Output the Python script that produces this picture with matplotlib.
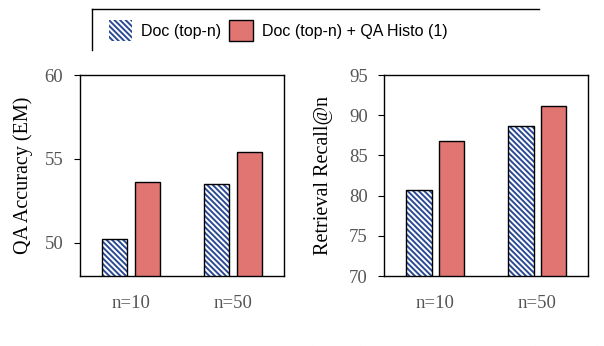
import numpy as np
import matplotlib.pyplot as plt
from matplotlib.patches import Patch
from matplotlib.lines import Line2D

# values
groups = ['n=10', 'n=50']
qa_doc = [50.2, 53.5]
qa_histo = [53.6, 55.4]
ret_doc = [80.7, 88.6]
ret_histo = [86.8, 91.1]

label_doc = 'Doc (top-n)'
label_histo = 'Doc (top-n) + QA Histo (1)'

blue = '#2b4a94'
red = '#e07572'
grey = '#555555'
hatch = '\\' * 6

plt.rcParams['hatch.linewidth'] = 1.4

fig = plt.figure(figsize=(6.04, 3.46), dpi=100)
ax1 = fig.add_axes([0.1325, 0.2023, 0.3377, 0.5809])
ax2 = fig.add_axes([0.6363, 0.2023, 0.3377, 0.5809])

x = np.arange(len(groups))
w = 0.25
off = 0.16

def draw(ax, doc, histo, ylim, yticks, ylabel):
    # hatched bars: hatch in blue, then a black outline on top
    ax.bar(x - off, doc, w, color='white', edgecolor=blue, hatch=hatch, linewidth=0, zorder=2)
    ax.bar(x - off, doc, w, fill=False, edgecolor='black', linewidth=1, zorder=3)
    ax.bar(x + off, histo, w, color=red, edgecolor='black', linewidth=1, zorder=2)
    ax.set_xlim(-0.5, 1.5)
    ax.set_ylim(*ylim)
    ax.set_yticks(yticks)
    ax.set_xticks(x)
    ax.set_xticklabels(groups)
    ax.tick_params(axis='x', length=0, pad=14, labelsize=13.5, labelcolor=grey)
    ax.tick_params(axis='y', length=4, pad=8, labelsize=13.5, labelcolor=grey)
    for lab in ax.get_xticklabels() + ax.get_yticklabels():
        lab.set_fontfamily('Liberation Serif')
    ax.set_ylabel(ylabel, fontsize=14.5, family='Liberation Serif')
    for s in ax.spines.values():
        s.set_linewidth(1)

draw(ax1, qa_doc, qa_histo, (48, 60), [50, 55, 60], 'QA Accuracy (EM)')
draw(ax2, ret_doc, ret_histo, (70, 95), [70, 75, 80, 85, 90, 95], 'Retrieval Recall@n')
ax1.yaxis.set_label_coords(-0.23, 0.5)
ax2.yaxis.set_label_coords(-0.25, 0.5)

# legend on top, only top and left border visible
handles = [Patch(facecolor='white', edgecolor=blue, hatch=hatch, linewidth=0),
           Patch(facecolor=red, edgecolor='black', linewidth=1)]
fig.legend(handles, [label_doc, label_histo], loc='center left', bbox_to_anchor=(0.156, 0.912),
           ncol=2, frameon=False, prop={'family': 'Liberation Sans', 'size': 11.5},
           handlelength=1.45, handleheight=1.6, handletextpad=0.6, columnspacing=0.5)
fig.add_artist(Line2D([92/604, 539/604], [1 - 9/346, 1 - 9/346], color='black', linewidth=1))
fig.add_artist(Line2D([92/604, 92/604], [1 - 9/346, 1 - 50/346], color='black', linewidth=1))

# caption cut off at the bottom, as in the source: only the tops of the letters show
fig.text(0.0, 1 - 365/346, 'Figure 3: The results of QA (Left) and Retrieval (Right)',
         fontsize=19.5, family='Liberation Serif', va='baseline', ha='left', color='#222222')

fig.savefig('out.png', dpi=100)
